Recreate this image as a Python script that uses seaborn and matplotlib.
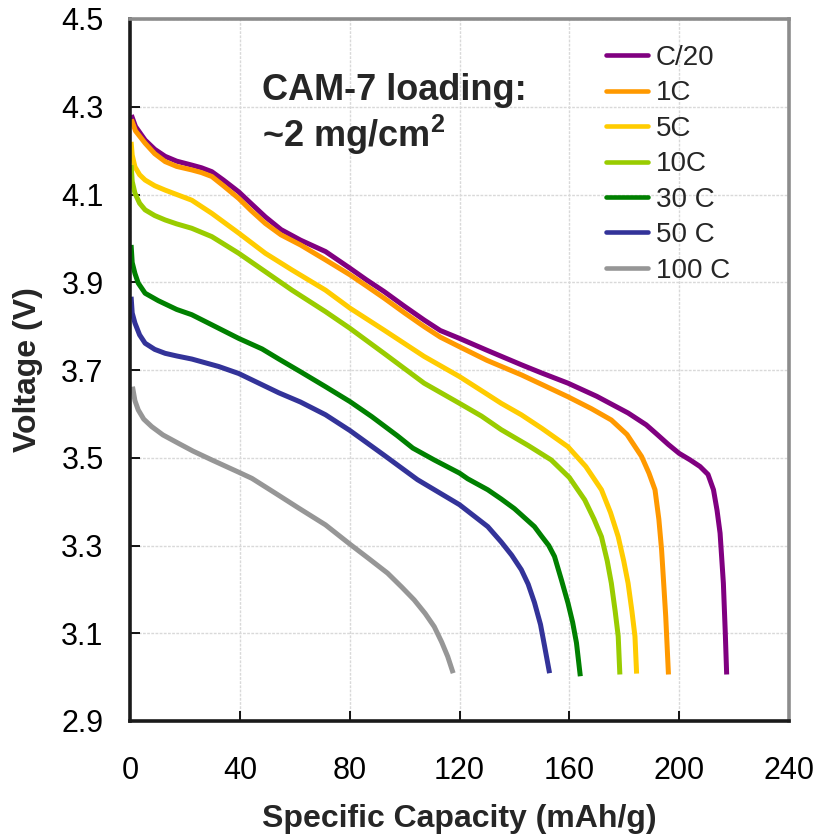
import matplotlib
matplotlib.use("Agg")
import matplotlib.pyplot as plt
from matplotlib.lines import Line2D
import numpy as np
import pandas as pd
import seaborn as sns

# Discharge rates and their line colours
rates = ["C/20", "1C", "5C", "10C", "30 C", "50 C", "100 C"]
colors = ["#800080", "#FF9900", "#FFCC00", "#99CC00", "#008000", "#333399", "#969696"]

# Specific capacity (mAh/g) and voltage (V) for each discharge curve
cap_c20 = [0.5, 2, 5.5, 9, 12.8, 17, 22.5, 26, 29.8, 34, 39.6, 44, 49.3, 55, 62.1, 71.2,
           80.1, 86, 92.5, 100, 107.1, 113, 120, 130, 142.5, 150, 159.5, 170, 181.4,
           188, 192, 196.1, 200, 204, 207.6, 210.5, 212.5, 213.8, 214.9, 216.1, 216.8, 217.3]
v_c20 = [4.281, 4.255, 4.224, 4.203, 4.187, 4.176, 4.167, 4.161, 4.152, 4.133, 4.106, 4.080,
         4.049, 4.020, 3.996, 3.970, 3.932, 3.906, 3.879, 3.845, 3.814, 3.790, 3.772, 3.745,
         3.712, 3.693, 3.670, 3.640, 3.602, 3.575, 3.553, 3.530, 3.510, 3.495, 3.480, 3.462,
         3.427, 3.380, 3.328, 3.214, 3.100, 3.006]

cap_1c = [0.5, 2, 5.5, 9, 12.8, 17, 22.5, 26, 29.8, 34, 39.6, 44, 49.3, 55, 62.1, 71.2, 80.1,
          86, 92.5, 100, 107.1, 113, 120, 130, 142.5, 150, 159.5, 168, 175.3, 181, 186.3,
          189, 191.2, 192.6, 193.6, 194.4, 195.1, 196.1]
v_1c = [4.271, 4.245, 4.217, 4.193, 4.175, 4.164, 4.156, 4.150, 4.141, 4.120, 4.091, 4.064,
        4.034, 4.008, 3.985, 3.951, 3.917, 3.892, 3.864, 3.830, 3.799, 3.775, 3.753, 3.722,
        3.689, 3.667, 3.639, 3.612, 3.586, 3.553, 3.503, 3.465, 3.427, 3.360, 3.290, 3.210,
        3.139, 3.006]

cap_5c = [0.4, 0.8, 1.8, 3.5, 5.5, 9, 12.8, 17, 22.5, 29.8, 39.6, 49.3, 59, 71.2, 80.1,
          92.5, 107.1, 120, 130, 135.2, 142.5, 150, 159.5, 166, 171.7, 175, 177.8, 179.8,
          181.4, 182.8, 183.9, 184.5]
v_5c = [4.220, 4.190, 4.163, 4.145, 4.133, 4.120, 4.110, 4.100, 4.087, 4.057, 4.012, 3.966,
        3.928, 3.882, 3.841, 3.791, 3.731, 3.685, 3.645, 3.624, 3.598, 3.567, 3.525, 3.480,
        3.427, 3.375, 3.320, 3.265, 3.214, 3.150, 3.093, 3.008]

cap_10c = [0.4, 0.8, 1.8, 3.5, 5.5, 9, 12.8, 17, 22.5, 29.8, 39.6, 49.3, 59, 71.2, 80.1,
           92.5, 107.1, 120, 128, 135.2, 145, 153.4, 160, 165.6, 169, 171.7, 173.8, 175.3,
           176.7, 177.8, 178.4]
v_10c = [4.167, 4.130, 4.103, 4.080, 4.065, 4.052, 4.042, 4.033, 4.023, 4.004, 3.966, 3.924,
         3.882, 3.833, 3.795, 3.738, 3.670, 3.624, 3.595, 3.564, 3.528, 3.495, 3.455, 3.404,
         3.360, 3.320, 3.265, 3.214, 3.150, 3.093, 3.006]

cap_30c = [0.4, 0.8, 1.8, 3, 5.5, 10.3, 17, 22.5, 29.8, 39.6, 48.1, 54.2, 62.1, 71.2, 80.1,
           88, 97.4, 103, 110.8, 120, 123, 130.3, 135.2, 140, 142.5, 147.3, 149.8, 152.5,
           154.6, 157.1, 159.5, 161.2, 162.6, 164]
v_30c = [3.985, 3.945, 3.920, 3.898, 3.875, 3.858, 3.838, 3.826, 3.803, 3.772, 3.748, 3.725,
         3.696, 3.662, 3.628, 3.594, 3.550, 3.522, 3.495, 3.465, 3.452, 3.427, 3.406, 3.384,
         3.370, 3.343, 3.322, 3.300, 3.275, 3.222, 3.169, 3.125, 3.078, 3.002]

cap_50c = [0.4, 0.8, 1.8, 3.5, 5.5, 9, 12.8, 17, 22.5, 32.3, 39.6, 54.2, 62.1, 71.2, 80.1,
           92.5, 104.7, 120, 130.3, 135.2, 139, 142.5, 145, 147.3, 149.5, 151, 152.8]
v_50c = [3.867, 3.830, 3.807, 3.780, 3.761, 3.747, 3.738, 3.732, 3.725, 3.708, 3.692, 3.648,
         3.627, 3.598, 3.562, 3.506, 3.450, 3.393, 3.343, 3.308, 3.278, 3.245, 3.212, 3.170,
         3.120, 3.070, 3.009]

cap_100c = [0.9, 1.8, 3, 5, 7.9, 12, 17.6, 23, 29.8, 39.6, 44.4, 53, 61.5, 71.2, 80.1, 87,
            93.8, 99, 103.5, 107.5, 110.8, 113.5, 115.7, 117.7]
v_100c = [3.662, 3.630, 3.609, 3.588, 3.571, 3.552, 3.533, 3.515, 3.495, 3.467, 3.453, 3.419,
          3.385, 3.347, 3.303, 3.270, 3.237, 3.205, 3.176, 3.145, 3.115, 3.080, 3.047, 3.009]

x_ticks = [0, 40, 80, 120, 160, 200, 240]
y_ticks = [2.9, 3.1, 3.3, 3.5, 3.7, 3.9, 4.1, 4.3, 4.5]

curves = [(cap_c20, v_c20), (cap_1c, v_1c), (cap_5c, v_5c), (cap_10c, v_10c),
          (cap_30c, v_30c), (cap_50c, v_50c), (cap_100c, v_100c)]
frames = []
for rate, (cap, volt) in zip(rates, curves):
    frames.append(pd.DataFrame({"capacity": cap, "voltage": volt, "rate": rate,
                                "order": np.arange(len(cap))}))
df = pd.concat(frames, ignore_index=True)

sns.set_theme(style="white")
plt.rcParams["font.family"] = ["Liberation Sans", "DejaVu Sans"]
plt.rcParams["mathtext.fontset"] = "custom"
plt.rcParams["mathtext.rm"] = "Liberation Sans"
plt.rcParams["mathtext.bf"] = "Liberation Sans:bold"

W, H = 817, 836
fig = plt.figure(figsize=(W / 100, H / 100), dpi=100)
ax = fig.add_axes([130 / W, 115 / H, 659 / W, 702 / H])

palette = dict(zip(rates, colors))
sns.lineplot(data=df, x="capacity", y="voltage", hue="rate", hue_order=rates,
             palette=palette, sort=False, estimator=None, linewidth=3.6,
             legend=False, ax=ax)
for line in ax.get_lines():
    line.set_solid_capstyle("butt")
    line.set_solid_joinstyle("round")

ax.set_xlim(0, 240)
ax.set_ylim(2.9, 4.5)
ax.set_xticks(x_ticks)
ax.set_yticks(y_ticks)
ax.set_xticklabels([str(t) for t in x_ticks])
ax.set_yticklabels([f"{t:.1f}" for t in y_ticks])

ax.set_axisbelow(True)
ax.grid(True, color="#d9d9d9", linewidth=1.0, linestyle=(0, (2, 1)))

ax.tick_params(direction="in", length=7, width=1.3, color="black", labelsize=22,
               labelcolor="black", left=True, bottom=True, top=False, right=False)
ax.tick_params(axis="y", pad=19)
ax.tick_params(axis="x", pad=25)

for side in ["left", "bottom"]:
    ax.spines[side].set_color("#1a1a1a")
    ax.spines[side].set_linewidth(2.6)
for side in ["top", "right"]:
    ax.spines[side].set_color("#8c8c8c")
    ax.spines[side].set_linewidth(2.6)

ax.set_xlabel("Specific Capacity (mAh/g)", fontsize=23, fontweight="bold")
ax.set_ylabel("Voltage (V)", fontsize=23, fontweight="bold")
ax.xaxis.set_label_coords(0.5, -0.118)
ax.yaxis.set_label_coords(-0.132, 0.5)

handles = [Line2D([], [], color=c, linewidth=3.3) for c in colors]
ax.legend(handles, rates, loc="upper left", bbox_to_anchor=(606 / W, 1 - 45 / H),
          bbox_transform=fig.transFigure, frameon=False, fontsize=20,
          handlelength=1.5, handletextpad=0.3, labelspacing=0.34,
          borderpad=0, borderaxespad=0)

fig.text(262 / W, 1 - 100 / H, "CAM-7 loading:", fontsize=26, fontweight="bold",
         va="baseline", ha="left")
fig.text(262 / W, 1 - 147 / H, r"~2 mg/cm$^{\mathbf{2}}$", fontsize=26,
         fontweight="bold", va="baseline", ha="left")

fig.savefig("out.png", dpi=100)
